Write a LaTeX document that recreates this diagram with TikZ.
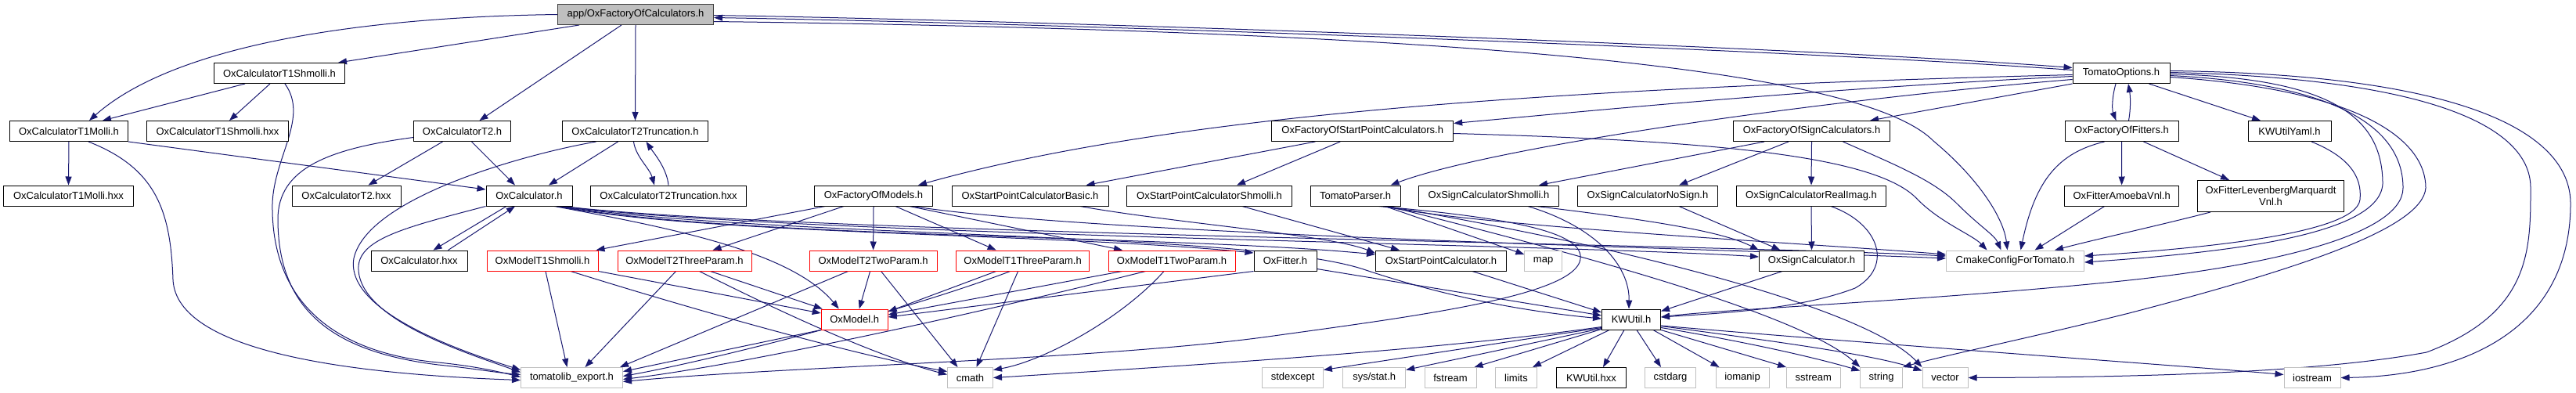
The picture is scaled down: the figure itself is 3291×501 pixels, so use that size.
\documentclass[tikz,border=0pt]{standalone}
\usepackage{fontspec}
\setmainfont{Liberation Sans}
\usetikzlibrary{arrows.meta,calc}
\definecolor{navy}{HTML}{191970}
\definecolor{lgray}{HTML}{BFBFBF}
\definecolor{dgray}{HTML}{404040}
\pgfdeclarelayer{bg}
\pgfdeclarelayer{edges}
\pgfsetlayers{bg,edges,main}
\begin{document}
\begin{tikzpicture}[x=1pt,y=-1pt,
  box/.style={draw=black, line width=1pt, fill=white, minimum height=26pt, inner sep=0pt, font=\fontsize{13}{15}\selectfont},
  sysbox/.style={box, draw=lgray},
  redbox/.style={box, draw=red},
  mainbox/.style={box, draw=dgray, fill=lgray},
  edg/.style={draw=navy, line width=1pt, -{Triangle[length=11pt,width=8pt]}},
]
\begin{pgfonlayer}{bg}
\fill[white] (0,0) rectangle (3291,501);
\end{pgfonlayer}
\useasboundingbox (0,0) rectangle (3291,501);
% R1
\node[mainbox,minimum width=199pt] (app) at (812,18.5) {app/OxFactoryOfCalculators.h};
% R2
\node[box,minimum width=167pt] (t1shh) at (357,93.5) {OxCalculatorT1Shmolli.h};
\node[box,minimum width=124pt] (topt) at (2710,93.5) {TomatoOptions.h};
% R3
\node[box,minimum width=151pt] (t1mh) at (88,167.5) {OxCalculatorT1Molli.h};
\node[box,minimum width=181pt] (t1shhxx) at (278,167.5) {OxCalculatorT1Shmolli.hxx};
\node[box,minimum width=124pt] (t2h) at (590.5,167.5) {OxCalculatorT2.h};
\node[box,minimum width=186pt] (t2trh) at (811.5,167.5) {OxCalculatorT2Truncation.h};
\node[box,minimum width=232pt] (fspc) at (1740.7,167.5) {OxFactoryOfStartPointCalculators.h};
\node[box,minimum width=200pt] (fsc) at (2314.5,167.5) {OxFactoryOfSignCalculators.h};
\node[box,minimum width=145pt] (ffit) at (2710.5,167.5) {OxFactoryOfFitters.h};
\node[box,minimum width=106pt] (yaml) at (2925,167.5) {KWUtilYaml.h};
% R4
\node[box,minimum width=166pt] (t1mhxx) at (87.5,250) {OxCalculatorT1Molli.hxx};
\node[box,minimum width=139pt] (t2hxx) at (442.5,250) {OxCalculatorT2.hxx};
\node[box,minimum width=110pt] (calc) at (676,250) {OxCalculator.h};
\node[box,minimum width=199pt] (t2trhxx) at (854,250) {OxCalculatorT2Truncation.hxx};
\node[box,minimum width=151pt] (fmod) at (1116,250) {OxFactoryOfModels.h};
\node[box,minimum width=200pt] (spcb) at (1316,250) {OxStartPointCalculatorBasic.h};
\node[box,minimum width=211pt] (spcs) at (1545,250) {OxStartPointCalculatorShmolli.h};
\node[box,minimum width=115pt] (parser) at (1731.6,250) {TomatoParser.h};
\node[box,minimum width=179pt] (scs) at (1902,250) {OxSignCalculatorShmolli.h};
\node[box,minimum width=179pt] (scn) at (2105,250) {OxSignCalculatorNoSign.h};
\node[box,minimum width=191pt] (scr) at (2314,250) {OxSignCalculatorRealImag.h};
\node[box,minimum width=146pt] (amoeba) at (2710.6,250) {OxFitterAmoebaVnl.h};
\node[box,minimum width=187pt,minimum height=40pt,align=center] (lm) at (2901,250.5) {OxFitterLevenbergMarquardt\\Vnl.h};
% R5
\node[box,minimum width=123pt] (calchxx) at (535.5,333) {OxCalculator.hxx};
\node[redbox,minimum width=142pt] (m1sh) at (693,333) {OxModelT1Shmolli.h};
\node[redbox,minimum width=171pt] (m23) at (874.5,333) {OxModelT2ThreeParam.h};
\node[redbox,minimum width=163pt] (m22) at (1115.6,333) {OxModelT2TwoParam.h};
\node[redbox,minimum width=170pt] (m13) at (1306.6,333) {OxModelT1ThreeParam.h};
\node[redbox,minimum width=162pt] (m12) at (1497,333) {OxModelT1TwoParam.h};
\node[box,minimum width=80pt] (fitter) at (1642,333) {OxFitter.h};
\node[box,minimum width=167pt] (spc) at (1841,333) {OxStartPointCalculator.h};
\node[sysbox,minimum width=47.5pt] (map) at (1971.6,333) {map};
\node[box,minimum width=134pt] (sc) at (2314.5,333) {OxSignCalculator.h};
\node[sysbox,minimum width=176pt] (cmake) at (2574.5,333) {CmakeConfigForTomato.h};
% R6
\node[redbox,minimum width=85pt] (model) at (1091.7,408) {OxModel.h};
\node[box,minimum width=75pt] (kwutil) at (2084,408) {KWUtil.h};
% R7
\node[sysbox,minimum width=130pt] (export) at (730.5,482.5) {tomatolib\_export.h};
\node[sysbox,minimum width=58pt] (cmath) at (1239.5,482.5) {cmath};
\node[sysbox,minimum width=77.5pt] (stdexcept) at (1651.6,482.5) {stdexcept};
\node[sysbox,minimum width=80pt] (sysstat) at (1755.7,482.5) {sys/stat.h};
\node[sysbox,minimum width=66pt] (fstream) at (1853,482.5) {fstream};
\node[sysbox,minimum width=53pt] (limits) at (1937,482.5) {limits};
\node[box,minimum width=89pt] (kwhxx) at (2033,482.5) {KWUtil.hxx};
\node[sysbox,minimum width=65pt] (cstdarg) at (2134,482.5) {cstdarg};
\node[sysbox,minimum width=68pt] (iomanip) at (2226,482.5) {iomanip};
\node[sysbox,minimum width=68.5pt] (sstream) at (2316.8,482.5) {sstream};
\node[sysbox,minimum width=53.6pt] (string) at (2403.6,482.5) {string};
\node[sysbox,minimum width=58pt] (vector) at (2485,482.5) {vector};
\node[sysbox,minimum width=72pt] (iostream) at (2954,482.5) {iostream};

\begin{pgfonlayer}{edges}
% app
\draw[edg] (app.west) .. controls (450,22) and (220,60) .. ($(t1mh.north)+(26,0)$);
\draw[edg] ($(app.south west)+(28,0)$) -- ($(t1shh.north)+(75,0)$);
\draw[edg] ($(app.south)+(-18,0)$) -- ($(t2h.north)+(22,0)$);
\draw[edg] (app.south) -- (t2trh.north);
\draw[edg] ($(app.east)+(0,1)$) .. controls (1400,28) and (2300,60) .. ($(topt.west)+(0,-7)$);
\draw[edg] ($(topt.west)+(0,-4)$) .. controls (2300,64) and (1400,31) .. ($(app.east)+(0,4)$);
\draw[edg] ($(app.east)+(0,9)$) .. controls (1900,40) and (2380,90) .. (2470,180) .. controls (2530,230) and (2560,280) .. ($(cmake.north)+(-10,0)$);
% t1shh
\draw[edg] ($(t1shh.south west)+(40,0)$) -- ($(t1mh.north)+(43,0)$);
\draw[edg] ($(t1shh.south)+(-12,0)$) -- ($(t1shhxx.north)+(15,0)$);
\draw[edg] ($(t1shh.south)+(7,0)$) .. controls (395,150) and (350,200) .. (348,260) .. controls (346,380) and (420,450) .. (560,463) .. controls (600,467) and (630,473) .. ($(export.west)+(0,-1)$);
% t1mh
\draw[edg] (t1mh.south) -- (t1mhxx.north);
\draw[edg] ($(t1mh.south)+(25,0)$) .. controls (200,215) and (218,270) .. (221,357) .. controls (225,450) and (450,478) .. ($(export.west)+(0,3)$);
\draw[edg] (t1mh.south east) -- ($(calc.west)+(0,-8)$);
% t2h
\draw[edg] ($(t2h.south)+(-25,0)$) -- ($(t2hxx.north)+(28,0)$);
\draw[edg] ($(t2h.south)+(12,0)$) -- ($(calc.north)+(-18,0)$);
\draw[edg] ($(t2h.west)+(0,8)$) .. controls (420,190) and (355,215) .. (355,280) .. controls (355,400) and (430,450) .. (560,466) .. controls (600,470) and (635,476) .. ($(export.west)+(0,-4)$);
% t2trh
\draw[edg] ($(t2trh.south)+(-22,0)$) -- ($(calc.north)+(25,0)$);
\draw[edg] ($(t2trh.south)+(-2,0)$) .. controls (812,200) and (830,215) .. ($(t2trhxx.north)+(-18,0)$);
\draw[edg] (t2trhxx.north) .. controls (852,215) and (835,195) .. ($(t2trh.south)+(14,0)$);
\draw[edg] ($(t2trh.south)+(-50,0)$) .. controls (680,195) and (470,250) .. (452,330) .. controls (440,400) and (600,452) .. ($(export.west)+(0,-10)$);
% calc
\draw[edg] ($(calc.south)+(-29,0)$) -- ($(calchxx.north)+(18,0)$);
\draw[edg] ($(calchxx.north)+(37,0)$) -- ($(calc.south)+(-18,0)$);
\draw[edg] (calc.south west) .. controls (520,290) and (455,305) .. (458,345) .. controls (462,410) and (600,452) .. ($(export.west)+(0,-7)$);
\draw[edg] ($(calc.south east)+(-23,0)$) .. controls (850,290) and (1010,320) .. ($(model.north)+(-20,0)$);
\draw[edg] ($(calc.south east)+(-20,0)$) .. controls (900,300) and (1350,298) .. ($(fitter.west)+(0,-10)$);
\draw[edg] ($(calc.south east)+(-18,0)$) .. controls (950,305) and (1500,300) .. ($(spc.west)+(0,-8)$);
\draw[edg] ($(calc.south east)+(-16,0)$) .. controls (1000,305) and (1600,295) .. (1745,345) .. controls (1850,380) and (1950,398) .. ($(kwutil.west)+(0,-1)$);
\draw[edg] ($(calc.south east)+(-14,0)$) .. controls (1000,300) and (2000,312) .. ($(sc.west)+(0,-5)$);
\draw[edg] ($(calc.south east)+(-12,0)$) .. controls (1000,298) and (2200,312) .. ($(cmake.west)+(0,-6)$);
% fmod
\draw[edg] ($(fmod.south west)+(14,0)$) -- ($(m1sh.north east)+(-3,0)$);
\draw[edg] ($(fmod.south west)+(38,0)$) -- ($(m23.north)+(36,0)$);
\draw[edg] (fmod.south) -- (m22.north);
\draw[edg] ($(fmod.south)+(28,0)$) -- ($(m13.north)+(-34,0)$);
\draw[edg] ($(fmod.south)+(46,0)$) -- ($(m12.north)+(-63,0)$);
\draw[edg] ($(fmod.south)+(50,0)$) .. controls (1400,300) and (2200,318) .. ($(cmake.west)+(0,-3)$);
% models
\draw[edg] ($(m1sh.south)+(4,0)$) -- ($(export.north)+(-6,0)$);
\draw[edg] (m1sh.south east) -- ($(model.west)+(0,-8)$);
\draw[edg] ($(m1sh.south)+(36,0)$) .. controls (900,400) and (1100,455) .. ($(cmath.west)+(0,-8)$);
\draw[edg] ($(m23.south)+(-11,0)$) -- ($(export.north)+(17,0)$);
\draw[edg] ($(m23.south)+(33,0)$) -- ($(model.north west)+(2,0)$);
\draw[edg] ($(m23.south)+(19,0)$) .. controls (1000,400) and (1120,455) .. ($(cmath.west)+(0,-4)$);
\draw[edg] ($(m22.south west)+(50,0)$) -- ($(export.north east)+(-4,0)$);
\draw[edg] ($(m22.south)+(-4,0)$) -- ($(model.north)+(6,0)$);
\draw[edg] ($(m22.south)+(10,0)$) -- ($(cmath.north)+(-16,0)$);
\draw[edg] ($(m13.south)+(-34,0)$) -- ($(model.east)+(0,-10)$);
\draw[edg] ($(m13.south)+(-16,0)$) .. controls (1150,400) and (900,462) .. ($(export.east)+(0,-2)$);
\draw[edg] ($(m13.south)+(-6,0)$) -- ($(cmath.north)+(8,0)$);
\draw[edg] ($(m12.south west)+(18,0)$) -- ($(model.east)+(0,-6)$);
\draw[edg] ($(m12.south west)+(48,0)$) .. controls (1250,400) and (950,466) .. ($(export.east)+(0,2)$);
\draw[edg] ($(m12.south)+(-10,0)$) .. controls (1430,410) and (1330,462) .. ($(cmath.east)+(0,-10)$);
\draw[edg] (fitter.south west) -- ($(model.east)+(0,-3)$);
\draw[edg] ($(fitter.south east)+(0,-3)$) -- ($(kwutil.west)+(0,-5)$);
\draw[edg] (model.south west) -- ($(export.east)+(0,-8)$);
% start point
\draw[edg] ($(spcb.south)+(64,0)$) .. controls (1500,285) and (1700,300) .. ($(spc.north west)+(0,4)$);
\draw[edg] ($(spcs.south)+(42,0)$) -- ($(spc.north)+(-53,0)$);
\draw[edg] ($(spc.south)+(40,0)$) -- ($(kwutil.west)+(0,-9)$);
% parser
\draw[edg] ($(parser.south)+(38,0)$) -- ($(map.west)+(0,-8)$);
\draw[edg] ($(parser.south)+(42,0)$) .. controls (2000,320) and (2300,400) .. (string.north west);
\draw[edg] ($(parser.south)+(40,0)$) .. controls (2050,310) and (2380,390) .. (vector.north west);
\draw[edg] ($(parser.south)+(35,0)$) .. controls (1900,290) and (2300,310) .. ($(cmake.west)+(0,-8)$);
\draw[edg] ($(parser.south)+(30,0)$) .. controls (1950,280) and (2030,300) .. (2018,335) .. controls (2000,380) and (1800,405) .. (1620,430) .. controls (1400,460) and (1000,468) .. ($(export.east)+(0,5)$);
% topt
\draw[edg] ($(topt.west)+(0,2)$) .. controls (2000,112) and (1500,145) .. ($(fmod.north)+(57,0)$);
\draw[edg] ($(topt.west)+(0,4)$) .. controls (2300,115) and (2050,140) .. ($(fspc.east)+(0,-10)$);
\draw[edg] ($(topt.west)+(0,8)$) .. controls (2300,130) and (1900,190) .. ($(parser.north)+(45,0)$);
\draw[edg] (topt.south west) -- ($(fsc.north east)+(-26,0)$);
\draw[edg] ($(topt.south)+(-7,0)$) .. controls (2698,125) and (2698,140) .. ($(ffit.north)+(-7,0)$);
\draw[edg] ($(ffit.north)+(9,0)$) .. controls (2722,140) and (2722,125) .. ($(topt.south)+(9,0)$);
\draw[edg] ($(topt.south east)+(-27,0)$) -- ($(yaml.north)+(-37,0)$);
\draw[edg] ($(topt.east)+(0,1)$) .. controls (2980,100) and (3044,150) .. (3044,235) .. controls (3040,300) and (2850,322) .. ($(cmake.east)+(0,2)$);
\draw[edg] ($(topt.east)+(0,3)$) .. controls (3000,108) and (3070,170) .. (3070,240) .. controls (3070,300) and (2900,340) .. (2700,360) .. controls (2450,385) and (2200,395) .. ($(kwutil.east)+(0,-3)$);
\draw[edg] ($(topt.east)+(0,5)$) .. controls (3020,115) and (3099,180) .. (3099,240) .. controls (3095,290) and (2950,340) .. (2720,400) .. controls (2600,430) and (2480,455) .. (string.north east);
\draw[edg] ($(topt.east)+(0,-1)$) .. controls (3100,100) and (3233,160) .. (3233,240) .. controls (3233,320) and (3233,400) .. (3100,450) .. controls (2950,478) and (2700,482) .. (vector.east);
\draw[edg] ($(topt.east)+(0,-3)$) .. controls (3150,95) and (3284,170) .. (3284,260) .. controls (3284,420) and (3150,480) .. (iostream.east);
\draw[edg] ($(yaml.south)+(28,0)$) .. controls (3000,200) and (3018,225) .. (3015,255) .. controls (3010,300) and (2800,318) .. ($(cmake.east)+(0,-6)$);
% fspc
\draw[edg] ($(fspc.south west)+(56,0)$) -- ($(spcb.north east)+(-29,0)$);
\draw[edg] ($(fspc.south west)+(88,0)$) -- ($(spcs.north)+(35,0)$);
\draw[edg] ($(fspc.east)+(0,3)$) .. controls (2200,180) and (2400,200) .. (2450,255) .. controls (2480,285) and (2520,300) .. ($(cmake.north)+(-36,0)$);
% fsc
\draw[edg] ($(fsc.south west)+(40,0)$) -- ($(scs.north)+(64,0)$);
\draw[edg] ($(fsc.south west)+(71,0)$) -- ($(scn.north)+(40,0)$);
\draw[edg] (fsc.south) -- (scr.north);
\draw[edg] ($(fsc.south)+(40,0)$) .. controls (2420,210) and (2470,230) .. (2500,260) .. controls (2530,290) and (2548,300) .. ($(cmake.north)+(-18,0)$);
% fitters
\draw[edg] (ffit.south) -- (amoeba.north);
\draw[edg] ($(ffit.south east)+(-45,0)$) -- ($(lm.north)+(-53,0)$);
\draw[edg] ($(ffit.south)+(-22,0)$) .. controls (2630,195) and (2600,230) .. ($(cmake.north)+(7,0)$);
\draw[edg] ($(amoeba.south)+(-22,0)$) -- ($(cmake.north)+(25,0)$);
\draw[edg] ($(lm.south west)+(17,0)$) .. controls (2750,290) and (2680,305) .. ($(cmake.north east)+(-38,0)$);
% sign calculators
\draw[edg] ($(scs.south)+(61,0)$) .. controls (2100,280) and (2200,295) .. (sc.north west);
\draw[edg] ($(scs.south)+(50,0)$) .. controls (2040,290) and (2082,340) .. ($(kwutil.north)+(-3,0)$);
\draw[edg] ($(scn.south)+(40,0)$) -- ($(sc.north)+(-40,0)$);
\draw[edg] (scr.south) -- (sc.north);
\draw[edg] ($(scr.south)+(25,0)$) .. controls (2400,285) and (2420,340) .. (2370,368) .. controls (2300,395) and (2200,400) .. ($(kwutil.east)+(0,-3)$);
\draw[edg] ($(sc.south west)+(30,0)$) -- ($(kwutil.north east)+(0,3)$);
% KWUtil
\draw[edg] ($(kwutil.south west)+(0,-4)$) .. controls (1850,445) and (1600,462) .. (cmath.east);
\draw[edg] ($(kwutil.south west)+(0,-3)$) -- ($(stdexcept.east)+(0,-10)$);
\draw[edg] ($(kwutil.south west)+(0,-2)$) -- ($(sysstat.east)+(0,-10)$);
\draw[edg] ($(kwutil.south west)+(0,-1)$) -- ($(fstream.north east)+(-3,0)$);
\draw[edg] ($(kwutil.south west)+(10,0)$) -- ($(limits.north east)+(-6,0)$);
\draw[edg] ($(kwutil.south)+(-9,0)$) -- ($(kwhxx.north)+(15,0)$);
\draw[edg] ($(kwutil.south)+(7,0)$) -- ($(cstdarg.north)+(-12,0)$);
\draw[edg] ($(kwutil.south east)+(-10,0)$) -- ($(iomanip.north west)+(5,0)$);
\draw[edg] (kwutil.south east) -- (sstream.north west);
\draw[edg] ($(kwutil.south east)+(0,-3)$) .. controls (2250,440) and (2330,460) .. ($(string.west)+(0,-9)$);
\draw[edg] ($(kwutil.south east)+(0,-5)$) .. controls (2300,440) and (2400,455) .. ($(vector.west)+(0,-9)$);
\draw[edg] ($(kwutil.east)+(0,8)$) .. controls (2400,440) and (2800,468) .. ($(iostream.west)+(0,-4)$);
\end{pgfonlayer}
\end{tikzpicture}
\end{document}
